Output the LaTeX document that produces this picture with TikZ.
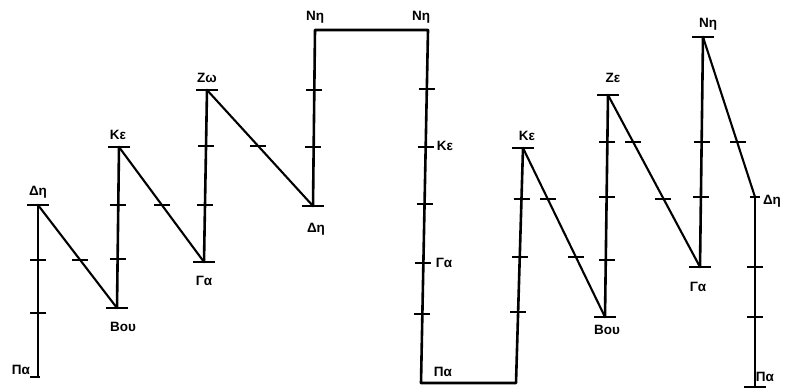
\documentclass[tikz,border=0pt]{standalone}
\usepackage{fontspec}
\setmainfont{Liberation Sans}
\begin{document}
\begin{tikzpicture}[x=1pt,y=-1pt,
  col/.style={line width=2.6pt, line cap=round, line join=round},
  diag/.style={line width=2.1pt, line cap=round},
  tickline/.style={line width=1.6pt},
  lab/.style={font=\bfseries\fontsize{13.5}{14}\selectfont, inner sep=0pt},
  tk/.pic={\draw[tickline] (-8,0) -- (8,0);},
  stk/.pic={\draw[tickline] (-5,0) -- (5,0);},
  bar/.pic={\draw[tickline] (-11,0) -- (11,0);}]
\useasboundingbox (0,0) rectangle (791,389);
% note points
\coordinate (pa1) at (38,377);
\coordinate (de1) at (38,205);
\coordinate (bou1) at (117,308);
\coordinate (ke1) at (119,147);
\coordinate (ga1) at (204,262);
\coordinate (zo1) at (207,90);
\coordinate (de2) at (313,206);
\coordinate (ni1) at (315,30);
\coordinate (ni2) at (428,30);
\coordinate (pa2) at (421,383);
\coordinate (pa3) at (516,383);
\coordinate (ke3) at (523,148);
\coordinate (bou2) at (605,317);
\coordinate (ze) at (608,95);
\coordinate (ga3) at (700,267);
\coordinate (ni3) at (703,37);
\coordinate (de3) at (755,197);
\coordinate (pa4) at (755,387);
% connectors
\draw[col] (pa1) -- (de1);
\draw[diag] (de1) -- (bou1);
\draw[col] (bou1) -- (ke1);
\draw[diag] (ke1) -- (ga1);
\draw[col] (ga1) -- (zo1);
\draw[diag] (zo1) -- (de2);
\draw[col] (de2) -- (ni1) -- (ni2) -- (pa2) -- (pa3) -- (ke3);
\draw[diag] (ke3) -- (bou2);
\draw[col] (bou2) -- (ze);
\draw[diag] (ze) -- (ga3);
\draw[col] (ga3) -- (ni3);
\draw[diag] (ni3) -- (de3);
\draw[col] (de3) -- (pa4);
% end bars
\pic at (de1) {bar};
\pic at (bou1) {bar};
\pic at (ke1) {bar};
\pic at (ga1) {bar};
\pic at (zo1) {bar};
\pic at (de2) {bar};
\pic at (ke3) {bar};
\pic at (bou2) {bar};
\pic at (ze) {bar};
\pic at (ga3) {bar};
\pic at (ni3) {bar};
\pic at (pa4) {bar};
\pic at ([xshift=-3pt]pa1) {stk};
% ticks
\pic at (38,260) {tk}; \pic at (38,313) {tk};
\pic at (80,260) {tk};
\pic at (118,205) {tk}; \pic at (118,259) {tk};
\pic at (162,205) {tk};
\pic at (206,146) {tk}; \pic at (205,205) {tk};
\pic at (258,146) {tk};
\pic at (314,90) {tk}; \pic at (313,147) {tk};
\pic at (426.8,89) {tk}; \pic at (425.7,147) {tk}; \pic at (424.5,204) {tk};
\pic at (423.4,263) {tk}; \pic at (422.4,314) {tk};
\pic at (521.5,199) {tk}; \pic at (519.8,257) {tk}; \pic at (518.1,312) {tk};
\pic at (548,199) {tk}; \pic at (576,257) {tk};
\pic at (607,142) {tk}; \pic at (607,197) {tk}; \pic at (607,260) {tk};
\pic at (633,142) {tk}; \pic at (663,199) {tk};
\pic at (702,142) {tk}; \pic at (701,197) {tk};
\pic at (738,142) {tk};
\pic at (755,197) {stk}; \pic at (755,267) {tk}; \pic at (755,317) {tk};
% labels
\node[lab] (lpa1) at (21,370) {Πα};
\node[lab] (lde1) at (38,192) {Δη};
\node[lab] (lbou1) at (123,327) {Βου};
\node[lab] (lke1) at (118,135) {Κε};
\node[lab] (lga1) at (204,281) {Γα};
\node[lab] (lzo1) at (207,78) {Ζω};
\node[lab] (lde2) at (316,229) {Δη};
\node[lab] (lni1) at (315,17) {Νη};
\node[lab] (lni2) at (421,17) {Νη};
\node[lab] (lke2) at (445,146) {Κε};
\node[lab] (lga2) at (444,263) {Γα};
\node[lab] (lpa2) at (443,372) {Πα};
\node[lab] (lke3) at (527,136) {Κε};
\node[lab] (lbou2) at (607,330) {Βου};
\node[lab] (lze) at (613,78) {Ζε};
\node[lab] (lni3) at (708,24) {Νη};
\node[lab] (lga3) at (698,287) {Γα};
\node[lab] (lde3) at (772,201) {Δη};
\node[lab] (lpa4) at (765,377) {Πα};
\end{tikzpicture}
\end{document}
